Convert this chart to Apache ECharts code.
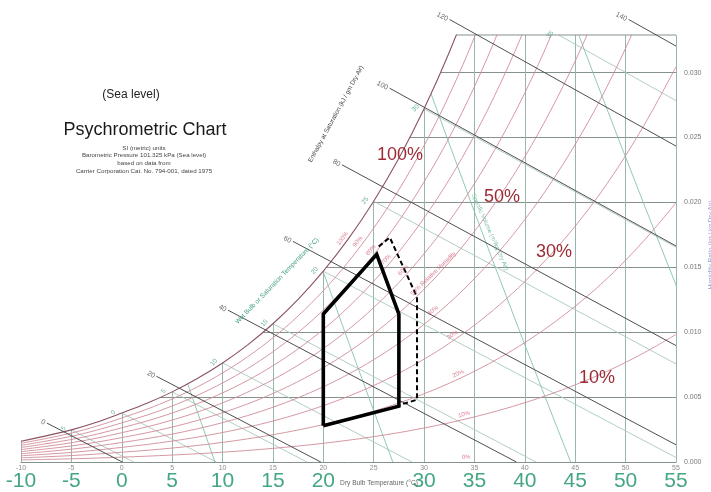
<!DOCTYPE html>
<html>
<head>
<meta charset="utf-8">
<title>Psychrometric Chart</title>
<script src="https://cdn.jsdelivr.net/npm/echarts@6/dist/echarts.min.js"></script>
<style>
  html, body { margin: 0; padding: 0; background: #ffffff; }
  #chart { width: 711px; height: 492px; }
</style>
</head>
<body>
<div id="chart"></div>
<script>
// Saturation vapour pressure of water (kPa), over ice below 0 °C
const tableTemps = [-10, -7.5, -5, -2.5, 0, 2.5, 5, 7.5, 10, 12.5, 15, 17.5, 20, 22.5, 25, 27.5, 30, 32.5, 35, 37.5, 40, 42.5, 45, 47.5, 50, 52.5, 55];
const saturationPressure = [0.2599, 0.3272, 0.4018, 0.4967, 0.6112, 0.7317, 0.8726, 1.0372, 1.2282, 1.4497, 1.7058, 2.0006, 2.3393, 2.7275, 3.1699, 3.6730, 4.2470, 4.8944, 5.6290, 6.4567, 7.3849, 8.4283, 9.5898, 10.888, 12.352, 13.983, 15.762];

// Chart scales
const dryBulbTicks = [-10, -5, 0, 5, 10, 15, 20, 25, 30, 35, 40, 45, 50, 55];
const bigDryBulbLabels = [-10, -5, 0, 5, 10, 15, 20, 30, 35, 40, 45, 50, 55];
const humidityRatioTicks = [0, 0.005, 0.010, 0.015, 0.020, 0.025, 0.030];
const humidityRatioTop = 0.0329;

// Line families
const relativeHumidity = [10, 20, 30, 40, 50, 60, 70, 80, 90];
const enthalpyValues = [0, 20, 40, 60, 80, 100, 120, 140];
const enthalpyScaleW = [0.0030, 0.0066, 0.0117, 0.0170, 0.0229, 0.0288, 0.0341, 0.0341];
const wetBulbTemps = [-5, 0, 5, 10, 15, 20, 25, 30, 35];
const specificVolumes = [0.80, 0.85, 0.90, 0.95];

// Small relative humidity captions: level and dry bulb where they sit
const rhCaptionLevels = [100, 90, 80, 70, 60, 50, 40, 30, 20, 10, 0];
const rhCaptionTemps = [22.3, 23.8, 25.1, 26.6, 28.3, 29.1, 31.2, 33.1, 33.6, 34.1, 34.2];

// Comfort zone outlines (dry bulb °C, humidity ratio)
const comfortZone = [[20, 0.0028], [20, 0.0114], [25.3, 0.0160], [27.5, 0.0114], [27.5, 0.0043], [20, 0.0028]];
const comfortZoneExtended = [[25.5, 0.0166], [26.6, 0.0173], [29.3, 0.0127], [29.3, 0.0048], [27.6, 0.0044]];

// ---------------------------------------------------------------------------
const P_ATM = 101.325;
const T_MIN = -10, T_MAX = 55;
const LAST = tableTemps.length - 1;
const PX_PER_W = 12970;          // vertical scale of the chart area

function pws(t) {
  let i = 0;
  if (t >= tableTemps[LAST]) i = LAST - 1;
  else if (t > tableTemps[0]) { while (tableTemps[i + 1] < t) i++; }
  const f = (t - tableTemps[i]) / (tableTemps[i + 1] - tableTemps[i]);
  return Math.exp(Math.log(saturationPressure[i]) * (1 - f) + Math.log(saturationPressure[i + 1]) * f);
}
function wAt(t, rh) {
  const pv = rh * pws(t);
  return 0.622 * pv / (P_ATM - pv);
}
function satEnthalpy(t) {
  const w = wAt(t, 1);
  return 1.006 * t + w * (2501 + 1.86 * t);
}
function solveT(fn, target) {
  let lo = -20, hi = 60;
  for (let k = 0; k < 60; k++) {
    const mid = (lo + hi) / 2;
    if (fn(mid) < target) lo = mid; else hi = mid;
  }
  return (lo + hi) / 2;
}
// humidity ratio on a wet-bulb line at dry bulb t
function wbW(t, twb) {
  const ws = wAt(twb, 1);
  return ((2501 - 2.326 * twb) * ws - 1.006 * (t - twb)) / (2501 + 1.86 * t - 4.186 * twb);
}
// dry bulb on a wet-bulb line at humidity ratio w
function wbT(w, twb) {
  const ws = wAt(twb, 1);
  return ((2501 - 2.326 * twb) * ws + 1.006 * twb - w * (2501 - 4.186 * twb)) / (1.86 * w + 1.006);
}
function wbEnd(twb) {
  const t0 = wbT(0, twb);
  return t0 <= T_MAX ? [t0, 0] : [T_MAX, wbW(T_MAX, twb)];
}
function curve(rh) {
  const pts = [];
  for (let i = 0; i <= LAST; i++) {
    const w = wAt(tableTemps[i], rh);
    pts.push([tableTemps[i], w]);
    if (w > 0.04) break;
  }
  return pts;
}

const FONT = 'Liberation Sans, Arial, sans-serif';
const C_VERT = '#98b6aa';
const C_HORZ = '#85918b';
const C_RH = '#d08c99';
const C_SAT = '#8c5262';
const C_ENTH = '#4f4f4f';
const C_WB = '#a9c8bc';
const C_VOL = '#86c3ab';
const C_GREEN = '#3f9e7c';
const SMOOTH = 0.35;

const series = [];

// wet-bulb lines (light)
wetBulbTemps.forEach(twb => {
  const ws = wAt(twb, 1);
  const start = ws <= humidityRatioTop ? [twb, ws] : [wbT(humidityRatioTop, twb), humidityRatioTop];
  series.push({
    type: 'line', data: [start, wbEnd(twb)], symbol: 'none', silent: true, z: 2,
    lineStyle: { color: C_WB, width: 0.9 }
  });
});

// specific volume lines
const volumeW = humidityRatioTicks.concat([humidityRatioTop]);
specificVolumes.forEach(v => {
  series.push({
    type: 'line', symbol: 'none', silent: true, z: 2,
    data: volumeW.map(w => [v * P_ATM / (0.287042 * (1 + 1.6078 * w)) - 273.15, w]),
    lineStyle: { color: C_VOL, width: 0.9 }
  });
});

// blank out the grid above the saturation curve
const satCurve = curve(1);
series.push({
  type: 'line', data: satCurve, symbol: 'none', silent: true, z: 3,
  smooth: SMOOTH,
  lineStyle: { width: 0, opacity: 0 },
  areaStyle: { color: '#ffffff', opacity: 1, origin: 'end' }
});

// top humidity ratio line, from the saturation curve to the right edge
const tTop = solveT(t => wAt(t, 1), humidityRatioTop);
series.push({
  type: 'line', symbol: 'none', silent: true, z: 4, clip: false,
  data: [[tTop, humidityRatioTop], [T_MAX, humidityRatioTop]],
  lineStyle: { color: C_HORZ, width: 1 }
});

// relative humidity curves
relativeHumidity.forEach(rh => {
  series.push({
    type: 'line', data: curve(rh / 100), symbol: 'none', silent: true, z: 4,
    smooth: SMOOTH,
    lineStyle: { color: C_RH, width: 0.9 }
  });
});
// saturation curve
series.push({
  type: 'line', data: satCurve, symbol: 'none', silent: true, z: 5,
  smooth: SMOOTH,
  lineStyle: { color: C_SAT, width: 1.1 }
});

// enthalpy-at-saturation scale lines
const enthalpyLabelPts = [];
enthalpyValues.forEach((h, i) => {
  const twb = solveT(satEnthalpy, h);
  const sw = enthalpyScaleW[i];
  const start = [wbT(sw, twb), sw];
  series.push({
    type: 'line', data: [start, wbEnd(twb)], symbol: 'none', silent: true, z: 6, clip: false,
    lineStyle: { color: C_ENTH, width: 1 }
  });
  enthalpyLabelPts.push({ value: start, name: String(h) });
});
series.push({
  type: 'scatter', data: enthalpyLabelPts, symbolSize: 0, z: 11, clip: false, silent: true,
  label: {
    show: true, formatter: p => p.name, position: 'left', distance: 2, rotate: -28,
    fontSize: 7, color: '#444', fontFamily: FONT
  }
});

// wet-bulb scale labels on the saturation curve
series.push({
  type: 'scatter', symbolSize: 0, z: 11, clip: false, silent: true,
  data: wetBulbTemps.map(twb => {
    const ws = wAt(twb, 1);
    const p = ws <= humidityRatioTop ? [twb, ws] : [wbT(humidityRatioTop, twb), humidityRatioTop];
    return { value: p, name: String(twb) };
  }),
  label: {
    show: true, formatter: p => p.name, position: [0, 0], offset: [-5, -7],
    align: 'center', verticalAlign: 'middle', rotate: 50,
    fontSize: 6.5, color: C_GREEN, fontFamily: FONT
  }
});

// small relative humidity captions
const rhCaptionRotate = [53, 51, 49, 47, 45, 44, 40, 33, 25, 15, 3];
series.push({
  type: 'scatter', symbolSize: 0, z: 11, clip: false, silent: true,
  data: rhCaptionLevels.map((rh, i) => ({
    value: [rhCaptionTemps[i], rh === 0 ? 0 : wAt(rhCaptionTemps[i], rh / 100)],
    name: rh === 50 ? '50% Relative Humidity' : rh + '%',
    label: {
      rotate: rhCaptionRotate[i],
      align: rh === 50 ? 'left' : 'center'
    }
  })),
  label: {
    show: true, formatter: p => p.name, position: [0, 0], offset: [0, -5],
    verticalAlign: 'middle',
    fontSize: 6, color: '#d2607a', fontFamily: FONT
  }
});

// comfort zone
series.push({
  type: 'line', data: comfortZone, symbol: 'none', silent: true, z: 10,
  lineStyle: { color: '#000', width: 3.6, join: 'miter', cap: 'butt' }
});
series.push({
  type: 'line', data: comfortZoneExtended, symbol: 'none', silent: true, z: 10,
  lineStyle: { color: '#000', width: 2, type: [5, 3] }
});

const hiddenAxisParts = {
  axisLine: { show: false }, axisTick: { show: false }, splitLine: { show: false }
};

function txt(x, y, text, size, fill, extra) {
  return Object.assign({
    type: 'text', x: x, y: y, z: 100, silent: true,
    style: { text: text, fontSize: size, fill: fill, align: 'center', verticalAlign: 'middle', fontFamily: FONT }
  }, extra || {});
}
const deg = Math.PI / 180;
const GRID_BOTTOM = 30;
// whole-pixel top edge keeps the grid lines fully hidden under the blank area
const gridTop = Math.round(492 - GRID_BOTTOM - humidityRatioTop * PX_PER_W);

const option = {
  animation: false,
  backgroundColor: '#ffffff',
  grid: { left: 21, right: 35, top: gridTop, bottom: GRID_BOTTOM, containLabel: false, outerBoundsMode: 'none' },
  xAxis: [
    {
      type: 'value', min: T_MIN, max: T_MAX, interval: 5,
      axisLine: { show: true, lineStyle: { color: C_HORZ, width: 1 } },
      axisTick: { show: false },
      splitLine: { show: true, showMinLine: true, showMaxLine: true, lineStyle: { color: C_VERT, width: 1 } },
      axisLabel: {
        show: true, margin: 3, fontSize: 7, color: '#8e8e8e', fontFamily: FONT, showMinLabel: true, showMaxLabel: true,
        formatter: v => dryBulbTicks.includes(v) ? String(v) : ''
      }
    },
    Object.assign({
      type: 'value', min: T_MIN, max: T_MAX, interval: 5, position: 'bottom',
      axisLabel: {
        show: true, margin: 9, fontSize: 21, color: '#45a682', fontFamily: FONT, showMinLabel: true, showMaxLabel: true,
        formatter: v => bigDryBulbLabels.includes(v) ? String(v) : ''
      }
    }, hiddenAxisParts)
  ],
  yAxis: {
    type: 'value', position: 'right', min: 0, max: humidityRatioTop, interval: 0.005,
    axisLine: { show: false }, axisTick: { show: false },
    splitLine: { show: true, showMinLine: false, showMaxLine: false, lineStyle: { color: C_HORZ, width: 1 } },
    axisLabel: {
      margin: 8, fontSize: 7, color: '#777', fontFamily: FONT,
      formatter: v => humidityRatioTicks.some(t => Math.abs(t - v) < 1e-7) ? v.toFixed(3) : ''
    }
  },
  series: series,
  graphic: [
    txt(131, 95, '(Sea level)', 12, '#222'),
    txt(145, 130, 'Psychrometric Chart', 18, '#1a1a1a'),
    txt(144, 148, 'SI (metric) units', 6.2, '#444'),
    txt(144, 155.5, 'Barometric Pressure 101.325 kPa (Sea level)', 6.2, '#444'),
    txt(144, 163, 'based on data from', 6.2, '#444'),
    txt(144, 171, 'Carrier Corporation Cat. No. 794-001, dated 1975', 6.2, '#444'),
    txt(336, 114, 'Enthalpy at Saturation (kJ / gm Dry Air)', 6.3, '#444', { rotation: 61.5 * deg }),
    txt(277, 281, 'Wet Bulb or Saturation Temperature (°C)', 6.5, C_GREEN, { rotation: 46 * deg }),
    txt(490, 232, 'Specific Volume (m³/kg Dry Air)', 6, '#7cc0a4', { rotation: -66 * deg }),
    txt(379, 483, 'Dry Bulb Temperature (°C)', 6.6, '#666'),
    txt(711, 245, 'Humidity Ratio (kg / kg Dry Air)', 6.5, '#8aa8d8', { rotation: 90 * deg }),
    txt(400, 155, '100%', 18, '#9c2b35'),
    txt(502, 197, '50%', 18, '#9c2b35'),
    txt(554, 252, '30%', 18, '#9c2b35'),
    txt(597, 378, '10%', 18, '#9c2b35')
  ]
};

const chart = echarts.init(document.getElementById('chart'), null, { renderer: 'canvas' });
chart.setOption(option);
</script>
</body>
</html>
